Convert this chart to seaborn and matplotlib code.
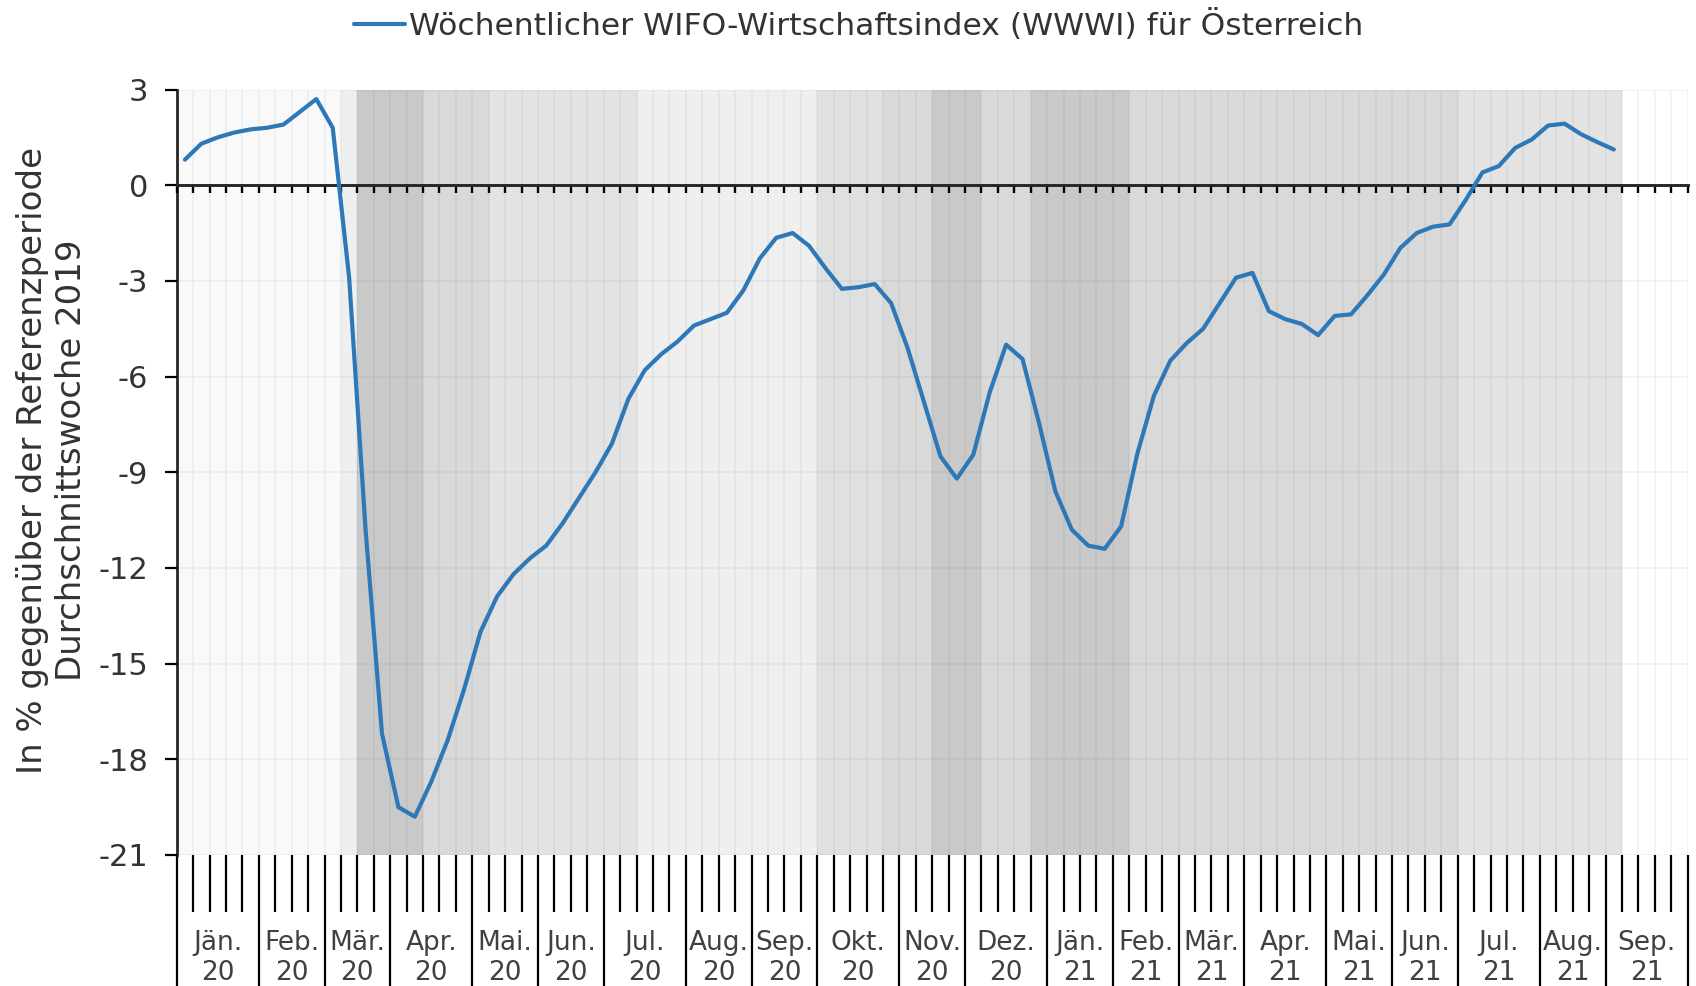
import numpy as np
import pandas as pd
import matplotlib
matplotlib.use("Agg")
import matplotlib.pyplot as plt
import seaborn as sns

# ---------------- data ----------------
months = ["Jän.", "Feb.", "Mär.", "Apr.", "Mai.", "Jun.", "Jul.", "Aug.", "Sep.", "Okt.", "Nov.", "Dez.",
          "Jän.", "Feb.", "Mär.", "Apr.", "Mai.", "Jun.", "Jul.", "Aug.", "Sep."]
years = ["20"] * 12 + ["21"] * 9
weeks_per_month = [5, 4, 4, 5, 4, 4, 5, 4, 4, 5, 4, 5, 4, 4, 4, 5, 4, 4, 5, 4, 5]

wwwi = [0.8, 1.3, 1.5, 1.65, 1.75, 1.8, 1.9, 2.3, 2.7, 1.8,
        -2.9, -10.8, -17.2, -19.5, -19.8, -18.7, -17.4, -15.8, -14.0, -12.9,
        -12.2, -11.7, -11.3, -10.6, -9.8, -9.0, -8.1, -6.7, -5.8, -5.3,
        -4.9, -4.4, -4.2, -4.0, -3.3, -2.3, -1.65, -1.5, -1.9, -2.6,
        -3.25, -3.2, -3.1, -3.7, -5.1, -6.8, -8.5, -9.2, -8.45, -6.5,
        -5.0, -5.45, -7.45, -9.6, -10.8, -11.3, -11.4, -10.7, -8.4, -6.6,
        -5.5, -4.95, -4.5, -3.7, -2.9, -2.75, -3.95, -4.2, -4.35, -4.7,
        -4.1, -4.05, -3.45, -2.8, -1.97, -1.5, -1.3, -1.23, -0.45, 0.4,
        0.6, 1.17, 1.43, 1.87, 1.93, 1.6, 1.35, 1.12]

# background shading level per week (0 = lightest ... 5 = darkest, -1 = none)
shade_level = [0, 0, 0, 0, 0, 0, 0, 0, 0, 0,
               1, 5, 5, 5, 5, 4, 4, 4, 4, 2,
               2, 2, 2, 2, 2, 2, 2, 2, 1, 1,
               1, 1, 1, 1, 1, 1, 1, 1, 1, 3,
               3, 3, 3, 4, 4, 4, 5, 5, 5, 4,
               4, 4, 5, 5, 5, 5, 5, 5, 4, 4,
               4, 4, 4, 4, 4, 4, 4, 4, 4, 4,
               4, 4, 4, 4, 4, 4, 4, 4, 2, 2,
               2, 2, 2, 2, 2, 2, 2, 2, -1, -1,
               -1, -1]
shade_colors = {0: "#f9f9f9", 1: "#efefef", 2: "#e3e3e3", 3: "#e0e0e0",
                4: "#d9d9d9", 5: "#c9c9c9", -1: "#ffffff"}

y_ticks = [3, 0, -3, -6, -9, -12, -15, -18, -21]
legend_label = "Wöchentlicher WIFO-Wirtschaftsindex (WWWI) für Österreich"
y_label = "In % gegenüber der Referenzperiode\nDurchschnittswoche 2019"

# ---------------- style ----------------
sns.set_style("white")
plt.rcParams["font.family"] = ["DejaVu Sans"]
plt.rcParams["axes.unicode_minus"] = False

W, H = 1696, 986
fig = plt.figure(figsize=(W / 100, H / 100), dpi=100)
left_px, right_px, top_px, bot_px = 176.7, 1687.7, 89.5, 855.0
ax = fig.add_axes([left_px / W, 1 - bot_px / H, (right_px - left_px) / W, (bot_px - top_px) / H])

n_weeks = len(shade_level)
weeks = np.arange(n_weeks)
ymin, ymax = min(y_ticks), max(y_ticks)

# background weekly columns
ax.bar(weeks, ymax - ymin, bottom=ymin, width=1.0,
       color=[shade_colors[s] for s in shade_level], linewidth=0, zorder=1)

# index line
df = pd.DataFrame({"week": np.arange(len(wwwi)), "value": wwwi})
sns.lineplot(data=df, x="week", y="value", ax=ax, color="#2e78b7", linewidth=3.0,
             label=legend_label, zorder=4)

ax.set_xlim(-0.5, n_weeks - 0.5)
ax.set_ylim(ymin, ymax)

# week boundaries / month boundaries
week_bounds = np.arange(n_weeks + 1) - 0.5
month_bounds = np.concatenate([[0], np.cumsum(weeks_per_month)]) - 0.5
inner_week_bounds = [b for b in week_bounds if b not in set(month_bounds)]
month_centers = (month_bounds[:-1] + month_bounds[1:]) / 2

# grid
ax.set_xticks(week_bounds)
ax.set_yticks(y_ticks)
ax.set_yticklabels([str(v) for v in y_ticks])
ax.set_axisbelow(False)
ax.grid(True, color="#1a4d4d", alpha=0.05, lw=1.4, zorder=2)

# spines
for s in ["top", "right"]:
    ax.spines[s].set_visible(False)
ax.spines["bottom"].set_position(("data", 0))
ax.spines["bottom"].set_linewidth(2.1)
ax.spines["bottom"].set_zorder(3)
ax.spines["left"].set_linewidth(2.0)
ax.tick_params(axis="x", which="major", bottom=True, direction="out", length=6, width=1.7,
               labelbottom=False, color="black")
ax.tick_params(axis="y", left=True, direction="out", length=8.5, width=1.6, labelsize=22,
               pad=12, labelcolor="#333333", color="black")
ax.set_xlabel("")
ax.set_ylabel(y_label, fontsize=24.5, color="#333333", linespacing=1.2)
ax.yaxis.set_label_coords(-0.059, 0.516)

# lower category axis: week ticks
sec = ax.secondary_xaxis("bottom")
sec.spines["bottom"].set_visible(False)
sec.set_xticks(inner_week_bounds)
sec.tick_params(axis="x", which="major", bottom=True, direction="out", length=41, width=1.6,
                labelbottom=False, color="black")

# lower category axis: month separators and labels
sec2 = ax.secondary_xaxis("bottom")
sec2.spines["bottom"].set_visible(False)
sec2.set_xticks(month_bounds)
sec2.tick_params(axis="x", which="major", bottom=True, direction="out", length=100, width=1.6,
                 labelbottom=False, color="black")
sec2.set_xticks(month_centers, [f"{m}\n{y}" for m, y in zip(months, years)], minor=True)
sec2.tick_params(axis="x", which="minor", bottom=True, length=0, pad=54, labelsize=19,
                 labelcolor="#404040")
for t in sec2.get_xticklabels(minor=True):
    t.set_linespacing(1.2)

# legend
ax.legend(loc="center", bbox_to_anchor=(0.506, 0.975), bbox_transform=fig.transFigure,
          frameon=False, fontsize=22.6, handlelength=1.65, handletextpad=0.1,
          labelcolor="#333333")

fig.savefig("out.png", dpi=100)
